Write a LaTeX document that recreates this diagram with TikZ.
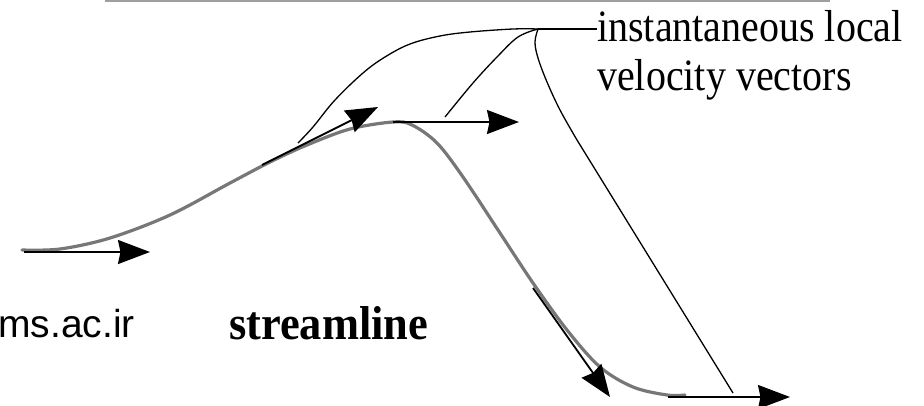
\documentclass[tikz,border=0pt]{standalone}
\usepackage{fontspec}
\setmainfont{Liberation Serif}
\newfontfamily\arialfont{Liberation Sans}
\usetikzlibrary{arrows.meta}
\definecolor{streamgray}{HTML}{777777}
\tikzset{
  stream/.style={draw=streamgray, line width=3.2pt, line cap=round, line join=round},
  vec/.style={draw=black, line width=1.8pt, -{Stealth[length=32pt,width=24pt,inset=2.5pt]}},
  leader/.style={draw=black, line width=1.3pt},
  labeltext/.style={inner sep=0pt, font=\fontsize{40}{48}\selectfont},
}
\begin{document}
\begin{tikzpicture}[x=1pt,y=-1pt]
\useasboundingbox (0,0) rectangle (924,405);
% top border line (cropped frame)
\draw[draw=gray!75, line width=2pt] (105,1) -- (830,1);

% streamline
\draw[stream] plot[smooth, tension=0.55] coordinates {
  (22,250) (60,249) (110,238) (170,215) (230,183) (270,162) (307,145)
  (350,129) (393,122) (412,125) (437,143) (463,177) (500,233) (533,283)
  (567,330) (600,367) (633,387) (667,395) (685,395)};

% anchor points for the velocity vectors
\coordinate (a1s) at (24,252);   \coordinate (a1e) at (150,252);
\coordinate (a2s) at (262,165);  \coordinate (a2e) at (378,107);
\coordinate (a3s) at (393,122);  \coordinate (a3e) at (519,122);
\coordinate (a4s) at (533,288);  \coordinate (a4e) at (610,397);
\coordinate (a5s) at (668,397);  \coordinate (a5e) at (790,397);

\draw[vec] (a1s) -- (a1e);
\draw[vec] (a2s) -- (a2e);
\draw[vec] (a3s) -- (a3e);
\draw[vec] (a4s) -- (a4e);
\draw[vec] (a5s) -- (a5e);

% labels
\node[labeltext, anchor=base west] (lab1) at (597,41.5) {\scalebox{1}[1.12]{instantaneous local}};
\node[labeltext, anchor=base west] (lab2) at (597,90) {\scalebox{1}[1.12]{velocity vectors}};
\node[inner sep=0pt, anchor=base west, font=\bfseries\fontsize{44}{50}\selectfont] (sl) at (229,339) {\scalebox{1.01}[1.08]{streamline}};
\node[inner sep=0pt, anchor=base east, font=\arialfont\fontsize{39}{45}\selectfont] (url) at (135,337) {ms.ac.ir};

% leader lines
\coordinate (J) at (538,29);
\coordinate (L1) at (298,143);
\coordinate (L2) at (445,117);
\coordinate (L3) at (733,393);
\draw[leader] (J) -- (lab1.west |- J);
\draw[leader] plot[smooth, tension=0.6] coordinates {
  (L1) (313,127) (335,100) (363,73) (385,57) (410,44) (440,36) (470,32) (513,29) (J)};
\draw[leader] plot[smooth, tension=0.6] coordinates {
  (L2) (473,83) (497,57) (518,37) (J)};
\draw[leader] plot[smooth, tension=0.6] coordinates {
  (J) (535,42) (538,58) (547,82) (560,110) (577,140)};
\draw[leader] (577,140) -- (L3);
\end{tikzpicture}
\end{document}
